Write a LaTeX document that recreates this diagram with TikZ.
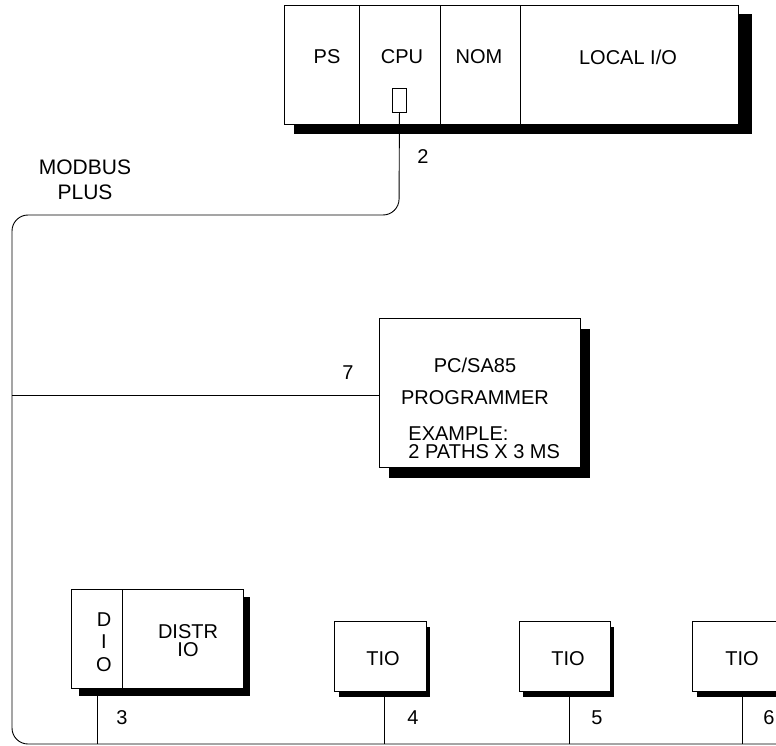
\documentclass[tikz,border=0pt]{standalone}
\usepackage{fontspec}
\setmainfont{Liberation Sans}
\begin{document}
\begin{tikzpicture}[x=1pt,y=-1pt,line width=0.9pt,
  box/.style={draw,fill=white,rectangle,inner sep=0pt,anchor=north west},
  shadow/.style={fill=black},
  lbl/.style={font=\fontsize{20}{25}\selectfont,inner sep=0pt},
  lbl2/.style={font=\fontsize{20}{18}\selectfont,inner sep=0pt}]
\useasboundingbox (0,0) rectangle (776,746);
% ---- rack ----
\fill[shadow] (294,14) rectangle (752,134);
\node[box,minimum width=75pt,minimum height=119pt] (ps) at (284,5) {};
\node[box,minimum width=81pt,minimum height=119pt] (cpu) at (359,5) {};
\node[box,minimum width=80pt,minimum height=119pt] (nom) at (440,5) {};
\node[box,minimum width=218pt,minimum height=119pt] (lio) at (520,5) {};
\node[lbl] (tps) at (327,57) {PS};
\node[lbl] (tcpu) at (402,57) {CPU};
\node[lbl] (tnom) at (479,57) {NOM};
\node[lbl] (tlio) at (628,57) {LOCAL I/O};
\node[box,minimum width=14pt,minimum height=24pt] (port) at (392,88) {};
\node[lbl] (n2) at (423,157) {2};
\node[lbl,font=\fontsize{21}{25}\selectfont,align=center] (mb) at (85,180) {MODBUS\\PLUS};
% ---- bus ----
\coordinate (c1) at (399,215);
\coordinate (c2) at (12,215);
\coordinate (c3) at (12,744);
\coordinate (busend) at (780,744);
\draw[rounded corners=16pt] (port.south) -- (c1) -- (c2) -- (c3) -- (busend);
% ---- programmer ----
\fill[shadow] (389,329) rectangle (590,478);
\node[box,minimum width=201pt,minimum height=149pt] (prog) at (379,318) {};
\node[lbl] (tpc) at (475,365) {PC/SA85};
\node[lbl] (tpr) at (475,398) {PROGRAMMER};
\node[lbl2,align=left,anchor=west] (tex) at (408,443) {EXAMPLE:\\ 2 PATHS X 3 MS};
\coordinate (pl) at (12,395);
\draw (pl) -- (pl -| prog.west);
\node[lbl] (n7) at (348,373) {7};
% ---- distributed IO ----
\fill[shadow] (79,597) rectangle (250,696);
\node[box,minimum width=51pt,minimum height=99pt] (dio) at (71,589) {};
\node[box,minimum width=121pt,minimum height=99pt] (distr) at (122,589) {};
\node[lbl] (td) at (104,620) {D};
\node[lbl] (ti) at (104,642) {I};
\node[lbl] (to) at (104,665) {O};
\node[lbl2,align=center] (tdistr) at (188,641) {DISTR\\IO};
\coordinate (b3) at (97,744);
\draw (b3 |- dio.south) -- (b3);
\node[lbl] (n3) at (122,718) {3};
% ---- TIOs ----
\fill[shadow] (339,627) rectangle (430,697);
\node[box,minimum width=92pt,minimum height=70pt] (tio1) at (334,621) {};
\node[lbl] (tt1) at (383,659) {TIO};
\coordinate (b4) at (384,744);
\draw (b4 |- tio1.south) -- (b4);
\node[lbl] (n4) at (413,718) {4};
\fill[shadow] (523,627) rectangle (614,697);
\node[box,minimum width=91pt,minimum height=70pt] (tio2) at (519,621) {};
\node[lbl] (tt2) at (568,659) {TIO};
\coordinate (b5) at (569,744);
\draw (b5 |- tio2.south) -- (b5);
\node[lbl] (n5) at (597,718) {5};
\fill[shadow] (697,627) rectangle (790,697);
\node[box,minimum width=92pt,minimum height=70pt] (tio3) at (692,621) {};
\node[lbl] (tt3) at (742,659) {TIO};
\coordinate (b6) at (742,744);
\draw (b6 |- tio3.south) -- (b6);
\node[lbl] (n6) at (769,718) {6};
\end{tikzpicture}
\end{document}
